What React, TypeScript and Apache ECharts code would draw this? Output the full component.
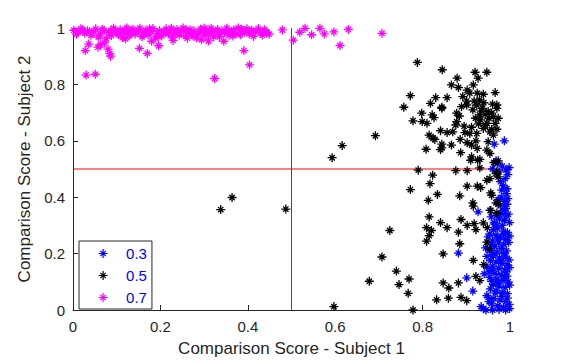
import React, { useEffect, useRef } from "react";
import * as echarts from "echarts";

const xTicks = [0, 0.2, 0.4, 0.6, 0.8, 1];
const legendNames = ["0.3", "0.5", "0.7"];
const seriesColors = ["#0000ff", "#000000", "#ff00ff"];
const xTitle = "Comparison Score - Subject 1";
const yTitle = "Comparison Score - Subject 2";

const points03: [number, number][] = [
  [0.964,0.588],[0.987,0.6],[0.968,0.529],[0.971,0.52],[0.991,0.496],[0.989,0.466],[0.982,0.51],[0.995,0.48],[0.978,0.455],[0.985,0.44],[0.96,0.5],[0.975,0.49],[0.998,0.505],[0.993,0.43],
  [0.992,0.413],[0.973,0.391],[0.98,0.4],[0.987,0.385],[0.995,0.395],[0.978,0.37],[0.99,0.36],[0.984,0.352],[0.996,0.34],[0.97,0.335],[0.976,0.322],[0.988,0.318],[0.999,0.31],[0.965,0.305],[0.982,0.3],[0.957,0.33],[0.954,0.353],[0.927,0.348],[0.993,0.375],[0.981,0.425],
  [0.954,0.27],[0.95,0.259],[0.962,0.285],[0.972,0.29],[0.985,0.28],[0.994,0.275],[0.968,0.265],[0.978,0.258],[0.99,0.25],[0.999,0.262],[0.96,0.245],[0.974,0.238],[0.986,0.232],[0.997,0.24],[0.965,0.225],[0.98,0.218],[0.992,0.21],[0.954,0.211],[0.97,0.205],[0.985,0.2],[0.958,0.232],[0.944,0.22],
  [0.882,0.202],[0.947,0.19],[0.962,0.192],[0.976,0.185],[0.99,0.188],[0.998,0.178],[0.955,0.175],[0.968,0.17],[0.982,0.165],[0.994,0.16],[0.947,0.152],[0.96,0.155],[0.974,0.148],[0.988,0.142],[0.999,0.15],[0.952,0.135],[0.966,0.13],[0.98,0.125],[0.993,0.12],[0.954,0.116],[0.97,0.11],[0.984,0.105],[0.996,0.1],[0.901,0.114],[0.941,0.128],[0.958,0.102],
  [0.915,0.067],[0.947,0.051],[0.962,0.09],[0.975,0.085],[0.989,0.08],[0.999,0.088],[0.955,0.075],[0.968,0.068],[0.982,0.062],[0.994,0.058],[0.95,0.045],[0.963,0.04],[0.977,0.035],[0.991,0.03],[0.958,0.022],[0.972,0.015],[0.985,0.01],[0.998,0.02],[0.939,0.004],[0.945,0.0],[0.96,0.0],[0.975,0.002],[0.99,0.0],[0.999,0.005],[0.934,0.012],[0.952,0.03],
  [0.964,0.31],[0.979,0.342],[0.99,0.33],[0.961,0.195],[0.978,0.175],[0.992,0.135],[0.966,0.06],[0.981,0.048],[0.994,0.042],[0.972,0.252],[0.986,0.268],[0.959,0.14],[0.973,0.095],[0.988,0.118]
];

const points05: [number, number][] = [
  [0.788,0.878],[0.845,0.852],[0.92,0.843],[0.947,0.843],[0.879,0.822],[0.927,0.822],[0.866,0.798],[0.882,0.789],[0.916,0.798],[0.902,0.78],[0.772,0.76],[0.83,0.753],[0.856,0.753],[0.892,0.757],[0.908,0.769],[0.925,0.769],[0.939,0.765],[0.966,0.771],[0.901,0.741],[0.918,0.741],[0.93,0.745],[0.757,0.719],[0.818,0.733],[0.844,0.719],[0.889,0.721],[0.901,0.727],[0.924,0.727],[0.937,0.715],[0.95,0.704],[0.97,0.727],[0.97,0.715],[0.798,0.698],[0.822,0.692],[0.826,0.682],[0.878,0.698],[0.884,0.688],[0.93,0.692],[0.943,0.694],[0.958,0.698],[0.962,0.686],[0.973,0.68],[0.778,0.671],[0.799,0.668],[0.81,0.662],[0.878,0.668],[0.921,0.68],[0.933,0.674],[0.947,0.662],[0.966,0.662],[0.895,0.652],[0.912,0.648],[0.939,0.644],[0.954,0.632],[0.97,0.641],[0.841,0.636],[0.856,0.629],[0.869,0.632],[0.908,0.626],[0.924,0.626],[0.962,0.62],[0.815,0.62],[0.828,0.605],[0.886,0.605],[0.902,0.593],[0.922,0.6],[0.95,0.597],[0.844,0.588],[0.866,0.585],[0.841,0.569],[0.808,0.57],[0.925,0.573],[0.947,0.567],[0.887,0.558],[0.912,0.543],[0.931,0.534],[0.954,0.555],[0.973,0.529],[0.912,0.585],[0.897,0.629],[0.876,0.656],
  [0.935,0.705],[0.952,0.68],[0.944,0.655],[0.958,0.64],[0.928,0.66],[0.915,0.71],[0.96,0.73],[0.94,0.735],
  [0.692,0.618],[0.616,0.583],[0.593,0.54],[0.824,0.609],[0.844,0.575],[0.844,0.715],[0.338,0.356],[0.364,0.399],[0.487,0.358],
  [0.79,0.496],[0.823,0.478],[0.876,0.494],[0.902,0.494],[0.817,0.448],[0.772,0.427],[0.902,0.439],[0.925,0.439],[0.933,0.434],[0.956,0.415],[0.834,0.41],[0.885,0.405],[0.813,0.389],[0.915,0.38],[0.916,0.368],[0.968,0.38],[0.956,0.353],[0.97,0.344],[0.815,0.33],[0.841,0.31],[0.856,0.292],[0.888,0.321],[0.902,0.3],[0.918,0.306],[0.922,0.285],[0.939,0.309],[0.948,0.292],[0.809,0.292],[0.82,0.282],[0.815,0.264],[0.809,0.244],[0.882,0.276],[0.885,0.235],[0.947,0.241],[0.953,0.217],[0.725,0.282],[0.847,0.199],[0.916,0.176],[0.94,0.161],[0.74,0.138],[0.769,0.11],[0.746,0.09],[0.767,0.059],[0.847,0.096],[0.86,0.078],[0.882,0.096],[0.922,0.119],[0.931,0.104],[0.832,0.036],[0.859,0.042],[0.888,0.045],[0.901,0.033],[0.778,0.0],[0.931,0.504],[0.947,0.46],[0.954,0.466],[0.968,0.484],[0.973,0.472],[0.958,0.407],[0.973,0.377],
  [0.91,0.531],[0.926,0.531],[0.963,0.523],[0.97,0.49],[0.597,0.012],[0.678,0.102],[0.707,0.188]
];

const points07: [number, number][] = [
  [0.002,0.992],[0.012,0.985],[0.018,0.997],[0.027,0.981],[0.033,0.99],[0.041,0.974],[0.047,0.986],[0.052,0.997],[0.058,0.968],[0.063,0.979],[0.071,0.991],[0.076,0.962],[0.082,0.984],[0.088,0.973],[0.093,0.999],[0.097,0.988],[0.104,0.977],[0.108,0.994],[0.113,0.966],[0.117,0.985],[0.123,1.0],[0.128,0.972],[0.131,0.989],[0.137,0.996],[0.142,0.978],[0.146,0.987],[0.153,0.999],[0.158,0.969],[0.163,0.983],[0.167,0.993],[0.172,0.976],[0.178,0.988],[0.183,0.998],[0.188,0.964],[0.192,0.981],[0.198,0.991],[0.203,0.972],[0.207,0.986],[0.213,0.997],[0.218,0.979],[0.222,0.99],[0.228,0.968],[0.233,0.984],[0.238,0.995],[0.243,0.975],[0.248,0.988],[0.252,1.0],[0.257,0.97],[0.263,0.983],[0.268,0.994],[0.272,0.977],[0.277,0.989],[0.283,0.965],[0.287,0.98],[0.292,0.996],[0.297,0.986],[0.302,0.973],[0.306,0.992],[0.311,0.981],[0.316,0.999],[0.322,0.969],[0.327,0.987],[0.331,0.995],[0.336,0.978],[0.341,0.99],[0.347,0.984],[0.352,0.999],[0.357,0.974],[0.362,0.988],[0.368,0.993],[0.373,0.98],[0.378,1.0],[0.383,0.976],[0.388,0.991],[0.393,0.985],[0.398,0.997],[0.403,0.979],[0.409,0.992],[0.413,0.97],[0.418,0.986],[0.424,0.998],[0.429,0.983],[0.433,0.975],[0.438,0.994],[0.443,0.985],[0.449,0.978],
  [0.008,0.978],[0.022,0.994],[0.038,0.988],[0.067,0.995],[0.086,0.99],[0.101,0.982],[0.119,0.99],[0.134,0.981],[0.15,0.991],[0.16,0.975],[0.175,0.997],[0.195,0.97],[0.211,0.983],[0.225,0.999],[0.241,0.986],[0.26,0.992],[0.275,0.972],[0.29,0.988],[0.3,0.999],[0.318,0.985],[0.335,0.969],[0.35,0.991],[0.365,0.982],[0.385,0.996],[0.405,0.988],
  [0.028,0.92],[0.036,0.943],[0.057,0.932],[0.063,0.94],[0.072,0.947],[0.08,0.925],[0.084,0.909],[0.086,0.9],[0.12,0.962],[0.152,0.928],[0.17,0.91],[0.18,0.953],[0.196,0.937],[0.229,0.956],[0.262,0.964],[0.294,0.958],[0.31,0.954],[0.345,0.953],[0.366,0.972],[0.391,0.92],[0.404,0.869],[0.324,0.821],[0.03,0.833],[0.051,0.836],[0.443,0.982],[0.479,0.993],[0.504,0.957],[0.519,0.985],[0.531,0.999],[0.546,0.976],[0.565,0.999],[0.575,0.979],[0.597,0.986],[0.611,0.938],[0.63,0.995],[0.707,0.981]
];

const vLine: [number, number][] = [[0.5, 0], [0.5, 1]];
const hLine: [number, number][] = [[0, 0.5], [1, 0.5]];

const ASTERISK = "path://M10,0L10,20M0,10L20,10M4,4L16,16M4,16L16,4";
const FONT = "'Liberation Sans', Arial, Helvetica, sans-serif";
const AXIS_COLOR = "#262626";

export default function App() {
  const ref = useRef<HTMLDivElement>(null);
  useEffect(() => {
    if (!ref.current) return;
    const chart = echarts.init(ref.current, undefined, { renderer: "svg" });
    const allPoints = [points03, points05, points07];
    const axisCommon = {
      type: "value" as const,
      min: 0,
      max: 1,
      interval: 0.2,
      axisLine: { show: true, lineStyle: { color: AXIS_COLOR, width: 1 } },
      axisTick: { show: true, inside: true, length: 5, lineStyle: { color: AXIS_COLOR } },
      splitLine: { show: false },
      nameLocation: "middle" as const,
      nameTextStyle: { color: AXIS_COLOR, fontSize: 17, fontFamily: FONT },
    };
    chart.setOption({
      animation: false,
      backgroundColor: "#ffffff",
      textStyle: { fontFamily: FONT },
      grid: { left: 73, top: 28, width: 437, height: 283, containLabel: false },
      xAxis: {
        ...axisCommon,
        name: xTitle,
        nameGap: 30,
        axisLabel: {
          color: AXIS_COLOR, fontSize: 15, fontFamily: FONT, margin: 9,
          formatter: (v: number) => (xTicks.includes(Math.round(v * 10) / 10) ? String(Math.round(v * 10) / 10) : ""),
        },
      },
      yAxis: {
        ...axisCommon,
        name: yTitle,
        nameGap: 35,
        nameRotate: 90,
        axisLabel: {
          color: AXIS_COLOR, fontSize: 15, fontFamily: FONT, margin: 8,
          formatter: (v: number) => String(Math.round(v * 10) / 10),
        },
      },
      legend: {
        orient: "vertical",
        left: 79,
        top: 241,
        data: legendNames.map((n, i) => ({
          name: n,
          icon: ASTERISK,
          itemStyle: { color: seriesColors[i], borderColor: seriesColors[i], borderWidth: 1.2 },
        })),
        itemWidth: 36,
        itemHeight: 9,
        itemGap: 5,
        padding: [4, 5, 3, 19],
        borderColor: AXIS_COLOR,
        borderWidth: 1,
        backgroundColor: "#ffffff",
        textStyle: { color: "#0000ff", fontSize: 15, lineHeight: 17, fontFamily: FONT },
        selectedMode: false,
      },
      series: [
        {
          type: "line",
          data: vLine,
          symbol: "none",
          silent: true,
          lineStyle: { color: "#ff0000", width: 1 },
          z: 1,
        },
        {
          type: "line",
          data: hLine,
          symbol: "none",
          silent: true,
          lineStyle: { color: "#ff0000", width: 1 },
          z: 1,
        },
        ...legendNames.map((n, i) => ({
          name: n,
          type: "scatter",
          data: allPoints[i],
          symbol: ASTERISK,
          symbolSize: 9,
          itemStyle: { color: seriesColors[i], borderColor: seriesColors[i], borderWidth: 1.3, opacity: 1 },
          z: 2 + i,
        })),
      ],
    });
    return () => chart.dispose();
  }, []);
  return (
    <div
      ref={ref}
      style={{ position: "absolute", left: 0, top: 0, width: 564, height: 362 }}
    />
  );
}
